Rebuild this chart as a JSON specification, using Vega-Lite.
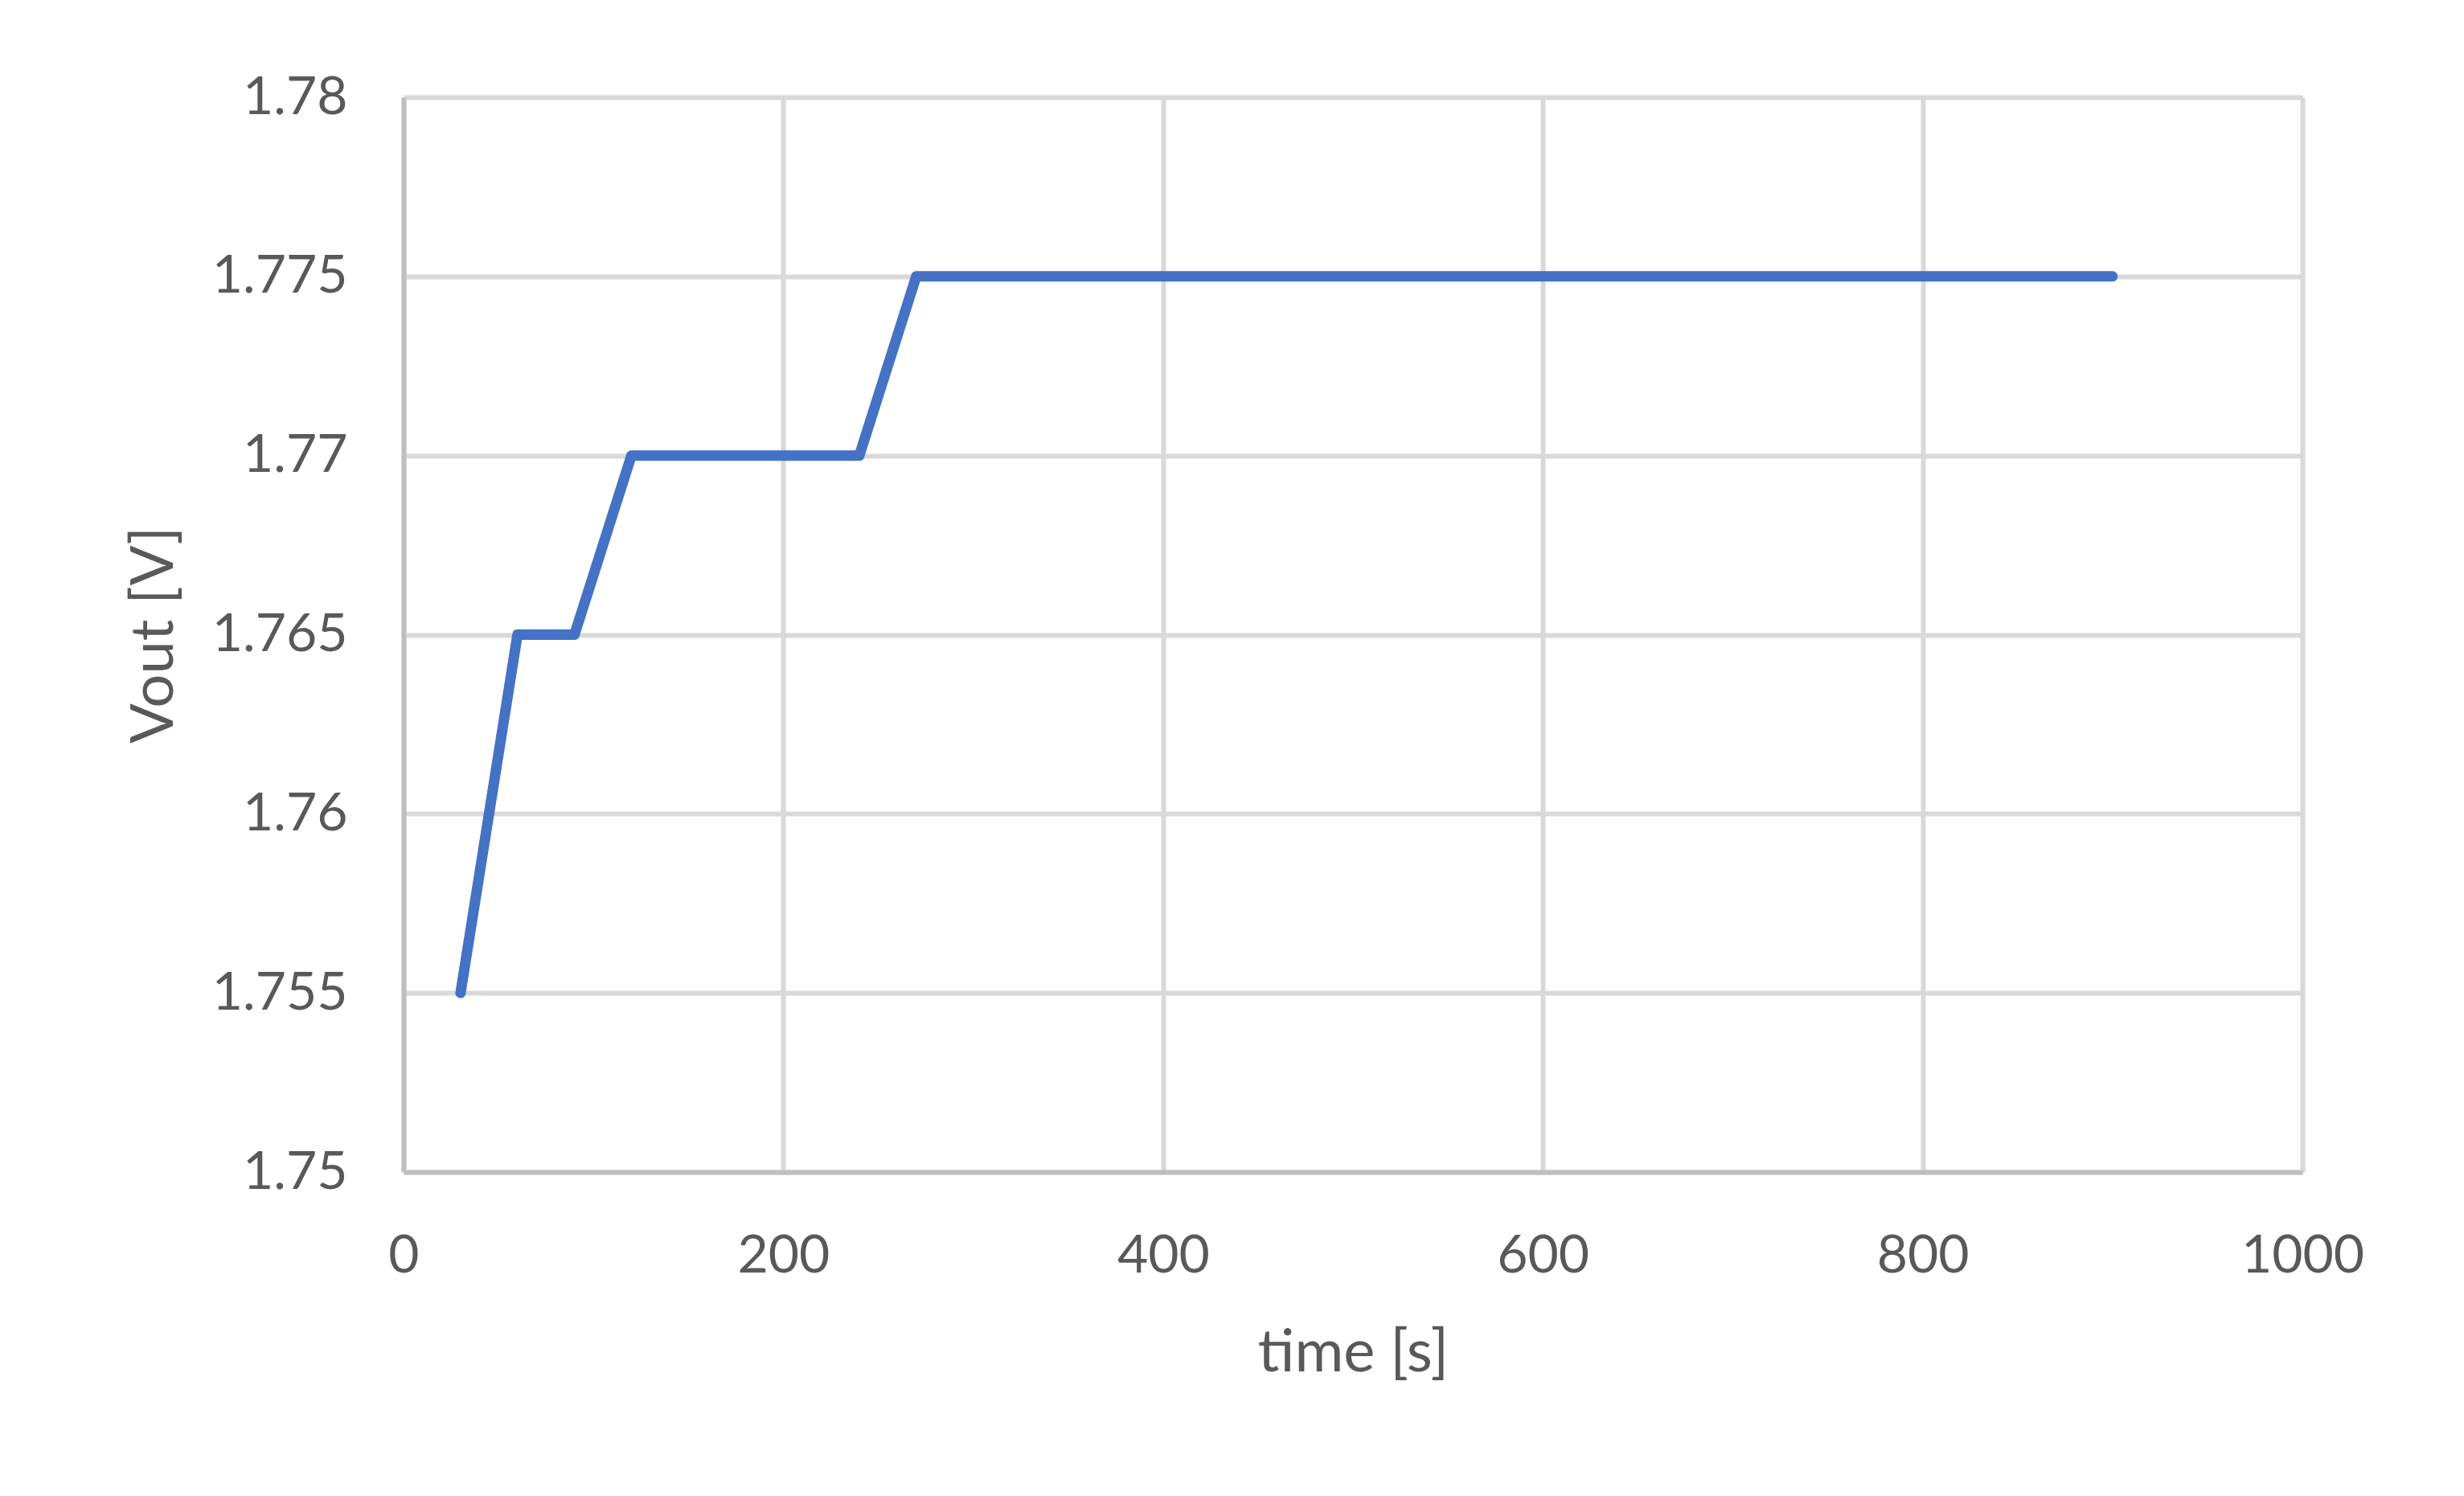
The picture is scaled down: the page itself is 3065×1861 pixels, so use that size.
{
  "$schema": "https://vega.github.io/schema/vega-lite/v6.json",
  "autosize": {"type": "none"},
  "width": 2362,
  "height": 1337,
  "padding": {"left": 502, "top": 121, "right": 201, "bottom": 403},
  "background": "white",
  "config": {
    "view": {"stroke": null},
    "font": "Lato",
    "axis": {
      "labelFont": "Lato",
      "titleFont": "Lato",
      "labelColor": "#595959",
      "titleColor": "#595959",
      "labelFontSize": 66,
      "titleFontSize": 74,
      "labelFontWeight": "normal",
      "titleFontWeight": "normal",
      "gridColor": "#d9d9d9",
      "gridWidth": 6,
      "domainColor": "#bfbfbf",
      "domainWidth": 6,
      "ticks": false,
      "labelFlush": false
    }
  },
  "data": {
    "values": [
      {"time": 30, "vout": 1.755},
      {"time": 60, "vout": 1.765},
      {"time": 90, "vout": 1.765},
      {"time": 120, "vout": 1.77},
      {"time": 150, "vout": 1.77},
      {"time": 180, "vout": 1.77},
      {"time": 210, "vout": 1.77},
      {"time": 240, "vout": 1.77},
      {"time": 270, "vout": 1.775},
      {"time": 300, "vout": 1.775},
      {"time": 330, "vout": 1.775},
      {"time": 360, "vout": 1.775},
      {"time": 390, "vout": 1.775},
      {"time": 420, "vout": 1.775},
      {"time": 450, "vout": 1.775},
      {"time": 480, "vout": 1.775},
      {"time": 510, "vout": 1.775},
      {"time": 540, "vout": 1.775},
      {"time": 570, "vout": 1.775},
      {"time": 600, "vout": 1.775},
      {"time": 630, "vout": 1.775},
      {"time": 660, "vout": 1.775},
      {"time": 690, "vout": 1.775},
      {"time": 720, "vout": 1.775},
      {"time": 750, "vout": 1.775},
      {"time": 780, "vout": 1.775},
      {"time": 810, "vout": 1.775},
      {"time": 840, "vout": 1.775},
      {"time": 870, "vout": 1.775},
      {"time": 900, "vout": 1.775}
    ]
  },
  "mark": {"type": "line", "color": "#4472C4", "strokeWidth": 13, "strokeCap": "round", "strokeJoin": "round"},
  "encoding": {
    "x": {
      "field": "time",
      "type": "quantitative",
      "scale": {"domain": [0, 1000], "nice": false, "zero": false},
      "axis": {
        "values": [0, 200, 400, 600, 800, 1000],
        "format": "d",
        "title": "time [s]",
        "labelPadding": 72,
        "titlePadding": 52
      }
    },
    "y": {
      "field": "vout",
      "type": "quantitative",
      "scale": {"domain": [1.75, 1.78], "nice": false, "zero": false},
      "axis": {
        "values": [1.75, 1.755, 1.76, 1.765, 1.77, 1.775, 1.78],
        "format": ".3~f",
        "title": "Vout [V]",
        "labelPadding": 70,
        "titlePadding": 72
      }
    }
  }
}
